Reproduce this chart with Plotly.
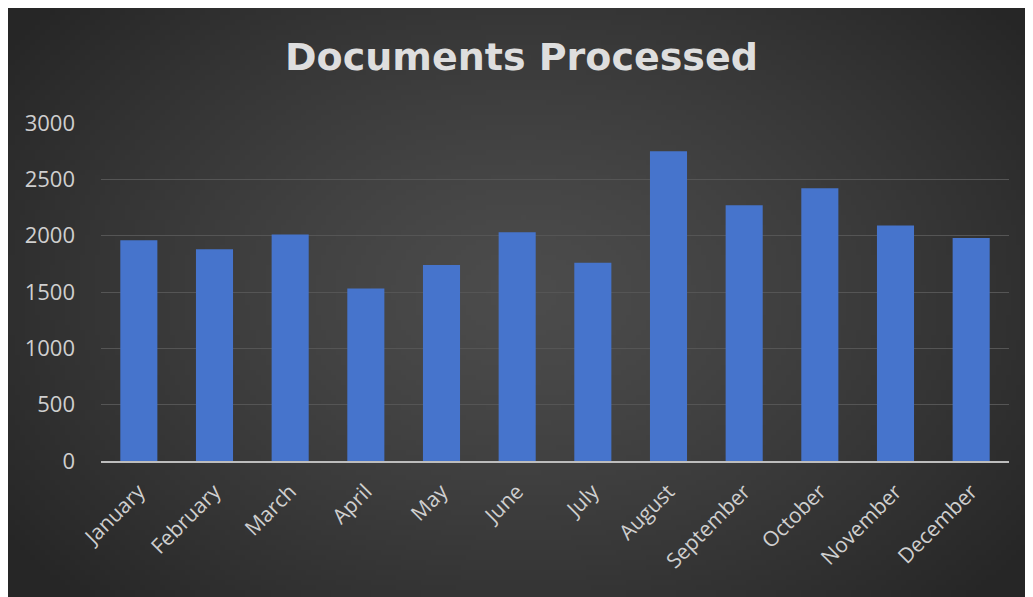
import base64, struct, zlib
import numpy as np
import plotly.graph_objects as go

months = ["January", "February", "March", "April", "May", "June", "July",
          "August", "September", "October", "November", "December"]
documents = [1960, 1880, 2010, 1530, 1740, 2030, 1760, 2750, 2270, 2420, 2090, 1980]
y_ticks = [0, 500, 1000, 1500, 2000, 2500, 3000]

# the page body has an 8px margin, so the figure is sized to fill the rest
W, H = 1025, 589
L, R, T, B = 93, 24, 115, 136
pw, ph = W - L - R, H - T - B


def png_data_uri(arr):
    h, w, _ = arr.shape
    raw = b"".join(b"\x00" + arr[i].astype(np.uint8).tobytes() for i in range(h))
    def chunk(tag, data):
        c = struct.pack(">I", len(data)) + tag + data
        return c + struct.pack(">I", zlib.crc32(tag + data) & 0xFFFFFFFF)
    png = (b"\x89PNG\r\n\x1a\n" + chunk(b"IHDR", struct.pack(">IIBBBBB", w, h, 8, 2, 0, 0, 0))
           + chunk(b"IDAT", zlib.compress(raw, 9)) + chunk(b"IEND", b""))
    return "data:image/png;base64," + base64.b64encode(png).decode()


# radial background gradient (styling only)
gw, gh = 205, 118
yy, xx = np.mgrid[0:gh, 0:gw]
d = np.sqrt(((xx - gw * 0.5) / (gw * 0.62)) ** 2 + ((yy - gh * 0.48) / (gh * 0.75)) ** 2)
d = np.clip(d, 0, 1)
v = 76 - (76 - 38) * d ** 1.3
bg = np.repeat(v[:, :, None], 3, axis=2)

fig = go.Figure()
fig.add_trace(go.Bar(
    x=months, y=documents,
    marker=dict(color="#4674cc", line=dict(width=0)),
    width=0.49,
))

fig.update_layout(
    width=W, height=H,
    margin=dict(l=L, r=R, t=T, b=B, autoexpand=False),
    paper_bgcolor="#2b2b2b",
    plot_bgcolor="rgba(0,0,0,0)",
    images=[dict(source=png_data_uri(bg), xref="paper", yref="paper",
                 x=-L / pw, y=1 + T / ph, sizex=W / pw, sizey=H / ph,
                 xanchor="left", yanchor="top", sizing="stretch", layer="below")],
    title=dict(text="<b>Documents Processed</b>", x=0.501, xanchor="center",
               y=1 - 49 / H, yanchor="middle",
               font=dict(family="DejaVu Sans", size=38, color="#dedede")),
    font=dict(family="Open Sans", color="#d0d0d0"),
    showlegend=False,
    bargap=0.51,
)
fig.update_xaxes(
    tickangle=-45, tickfont=dict(size=21, color="#cfcfcf"),
    showgrid=False, showline=True, linecolor="#bdbdbd", linewidth=2,
    ticks="outside", ticklen=8, tickcolor="rgba(0,0,0,0)", zeroline=False,
)
fig.update_yaxes(
    range=[0, 3000], tickvals=y_ticks, ticktext=[str(t) for t in y_ticks],
    tickfont=dict(size=22, color="#cfcfcf"),
    showgrid=True, gridcolor="#555555", gridwidth=1,
    zeroline=False, showline=False, ticks="", ticklabelstandoff=25,
)

fig.write_html("out.html")
